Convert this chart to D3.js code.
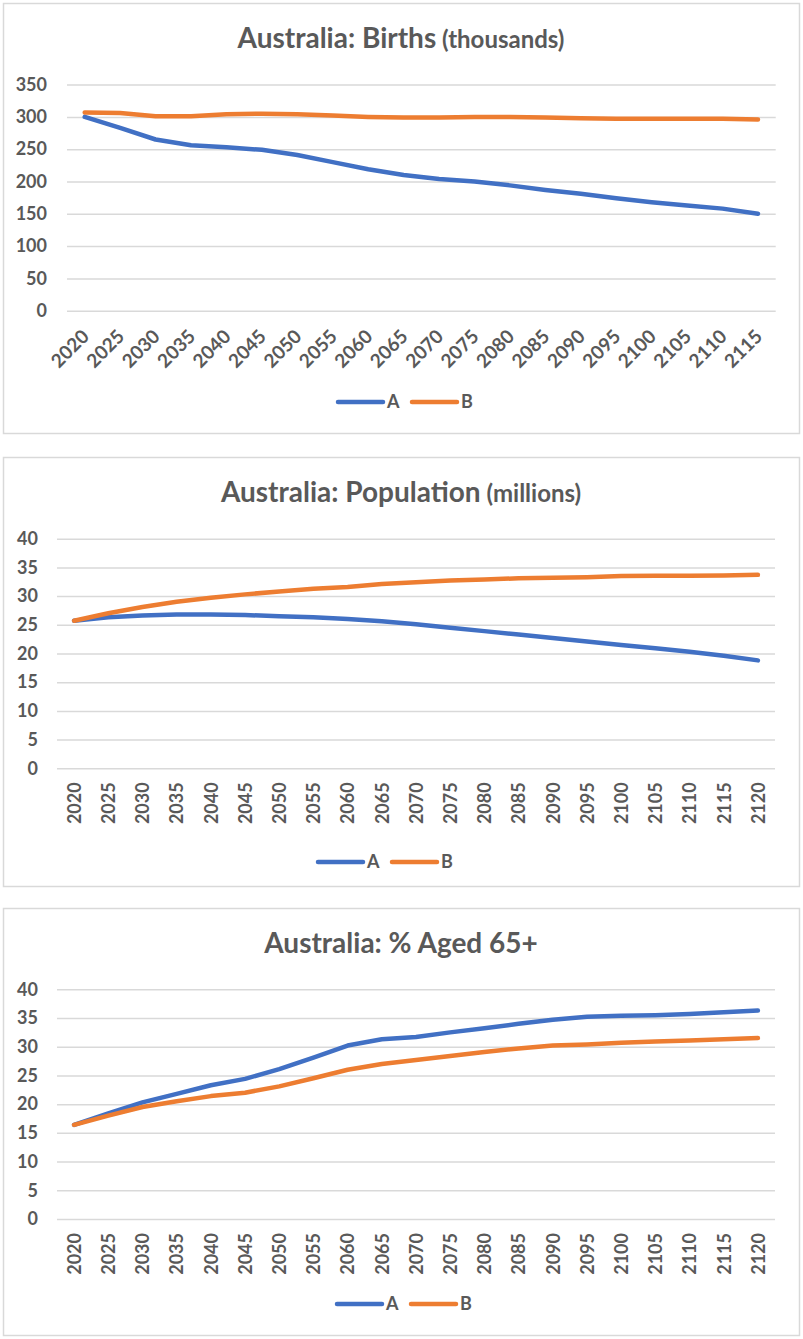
<!DOCTYPE html>
<html>
<head>
<meta charset="utf-8">
<script src="https://cdn.jsdelivr.net/npm/d3@7"></script>
<style>
  body { margin: 0; background: #fff; }
  text { font-family: Lato, "Open Sans", sans-serif; fill: #595959; }
</style>
</head>
<body>
<svg id="page" width="803" height="1339"></svg>
<script>
// categories
var yearsBirths = [2020, 2025, 2030, 2035, 2040, 2045, 2050, 2055, 2060, 2065,
                   2070, 2075, 2080, 2085, 2090, 2095, 2100, 2105, 2110, 2115]
var yearsLong = [2020, 2025, 2030, 2035, 2040, 2045, 2050, 2055, 2060, 2065, 2070,
                 2075, 2080, 2085, 2090, 2095, 2100, 2105, 2110, 2115, 2120]

// births (thousands)
var birthsA = [300, 283, 265, 256, 253, 249, 241, 230, 219, 210,
               204, 200, 194, 187, 181, 174, 168, 163, 158, 150]
var birthsB = [307, 306, 301, 301, 304, 305, 304, 302, 300, 299,
               299, 300, 300, 299, 298, 297, 297, 297, 297, 296]

// population (millions)
var popA = [25.7, 26.3, 26.6, 26.8, 26.8, 26.7, 26.5, 26.3, 26.0, 25.6, 25.1,
            24.5, 23.9, 23.3, 22.7, 22.1, 21.5, 20.9, 20.3, 19.6, 18.8]
var popB = [25.7, 27.0, 28.1, 29.0, 29.7, 30.3, 30.8, 31.3, 31.6, 32.1, 32.4,
            32.7, 32.9, 33.1, 33.2, 33.3, 33.5, 33.55, 33.55, 33.6, 33.7]

// % aged 65+
var agedA = [16.4, 18.4, 20.3, 21.8, 23.3, 24.4, 26.1, 28.1, 30.2, 31.3, 31.7,
             32.5, 33.2, 34.0, 34.7, 35.2, 35.4, 35.5, 35.7, 36.0, 36.3]
var agedB = [16.4, 18.0, 19.5, 20.5, 21.4, 22.0, 23.1, 24.5, 26.0, 27.0, 27.7,
             28.4, 29.1, 29.7, 30.2, 30.4, 30.7, 30.9, 31.1, 31.3, 31.5]

// tick labels
var ticksBirths = [0, 50, 100, 150, 200, 250, 300, 350]
var ticksPct = [0, 5, 10, 15, 20, 25, 30, 35, 40]

var seriesNames = ['A', 'B']
var colors = ['#4170c4', '#ed7d31']

var svg = d3.select('#page')

function drawPanel(p) {
    var g = svg.append('g')

    g.append('rect')
        .attr('x', 3.5).attr('y', p.top + 0.5)
        .attr('width', 796).attr('height', p.bottom - p.top)
        .attr('fill', '#fff')
        .attr('stroke', '#d9d9d9')
        .attr('stroke-width', 1.5)

    var title = g.append('text')
        .attr('x', 401)
        .attr('y', p.top + 45)
        .attr('text-anchor', 'middle')
        .style('font-weight', 'bold')
        .style('font-size', '28px')
    title.append('tspan').text(p.title)
    if (p.unit) {
        title.append('tspan').style('font-size', '24px').text(' ' + p.unit)
    }

    var x = d3.scalePoint()
        .domain(p.years)
        .range([p.left, p.right])
        .padding(0.5)

    var y = d3.scaleLinear()
        .domain([0, d3.max(p.ticks)])
        .range([p.y0, p.yTop])

    // gridlines + y labels
    var yAxis = g.append('g')
        .attr('transform', 'translate(' + p.left + ',0)')
        .call(d3.axisLeft(y)
            .tickValues(p.ticks)
            .tickSize(-(p.right - p.left))
            .tickPadding(p.left - p.labelRight))
    yAxis.select('.domain').remove()
    yAxis.selectAll('line').attr('stroke', '#d9d9d9').attr('stroke-width', 1.5)
    yAxis.selectAll('text')
        .style('font-size', p.yFont + 'px')
        .style('font-weight', 'bold')
        .attr('fill', '#595959')

    // x labels
    var xAxis = g.append('g')
        .attr('transform', 'translate(0,' + p.y0 + ')')
        .call(d3.axisBottom(x).tickSize(0))
    xAxis.select('.domain').remove()
    var xt = xAxis.selectAll('text')
        .attr('fill', '#595959')
        .style('font-size', p.xFont + 'px')
        .style('font-weight', 'bold')
        .attr('text-anchor', 'end')
    if (p.rotate == -45) {
        xt.attr('x', 0).attr('y', 0).attr('dy', 0)
            .attr('transform', 'translate(5,27) rotate(-45)')
    } else {
        xt.attr('y', 0).attr('x', -14).attr('dy', '0.35em')
            .attr('transform', 'rotate(-90)')
    }

    var line = d3.line()
        .x(function(d, i) { return x(p.years[i]) })
        .y(function(d) { return y(d) })

    p.series.forEach(function(s, i) {
        g.append('path')
            .datum(s)
            .attr('d', line)
            .attr('fill', 'none')
            .attr('stroke', colors[i])
            .attr('stroke-width', 4.5)
            .attr('stroke-linejoin', 'round')
            .attr('stroke-linecap', 'round')
    })

    // legend
    var leg = g.selectAll('.leg').data(seriesNames).enter()
        .append('g')
        .attr('transform', function(d, i) {
            return 'translate(' + (p.legendX + i * 74) + ',' + p.legendY + ')'
        })
    leg.append('line')
        .attr('x1', 0).attr('x2', 45)
        .attr('stroke', function(d, i) { return colors[i] })
        .attr('stroke-width', 4.5)
        .attr('stroke-linecap', 'round')
    leg.append('text')
        .attr('x', 49)
        .attr('dy', '0.35em')
        .style('font-size', '18px')
        .style('font-weight', 'bold')
        .text(function(d) { return d })
}

drawPanel({
    title: 'Australia: Births', unit: '(thousands)',
    top: 3, bottom: 433,
    years: yearsBirths, series: [birthsA, birthsB], ticks: ticksBirths,
    left: 67, right: 775.7, y0: 310.7, yTop: 84.6, labelRight: 47,
    yFont: 18, xFont: 19, rotate: -45,
    legendX: 338, legendY: 402
})

drawPanel({
    title: 'Australia: Population', unit: '(millions)',
    top: 457, bottom: 886,
    years: yearsLong, series: [popA, popB], ticks: ticksPct,
    left: 57, right: 775, y0: 768.3, yTop: 538.7, labelRight: 38,
    yFont: 18, xFont: 18, rotate: -90,
    legendX: 318, legendY: 862
})

drawPanel({
    title: 'Australia: % Aged 65+', unit: null,
    top: 908, bottom: 1335,
    years: yearsLong, series: [agedA, agedB], ticks: ticksPct,
    left: 57, right: 775, y0: 1219, yTop: 989.3, labelRight: 38,
    yFont: 18, xFont: 18, rotate: -90,
    legendX: 337, legendY: 1304
})
</script>
</body>
</html>
